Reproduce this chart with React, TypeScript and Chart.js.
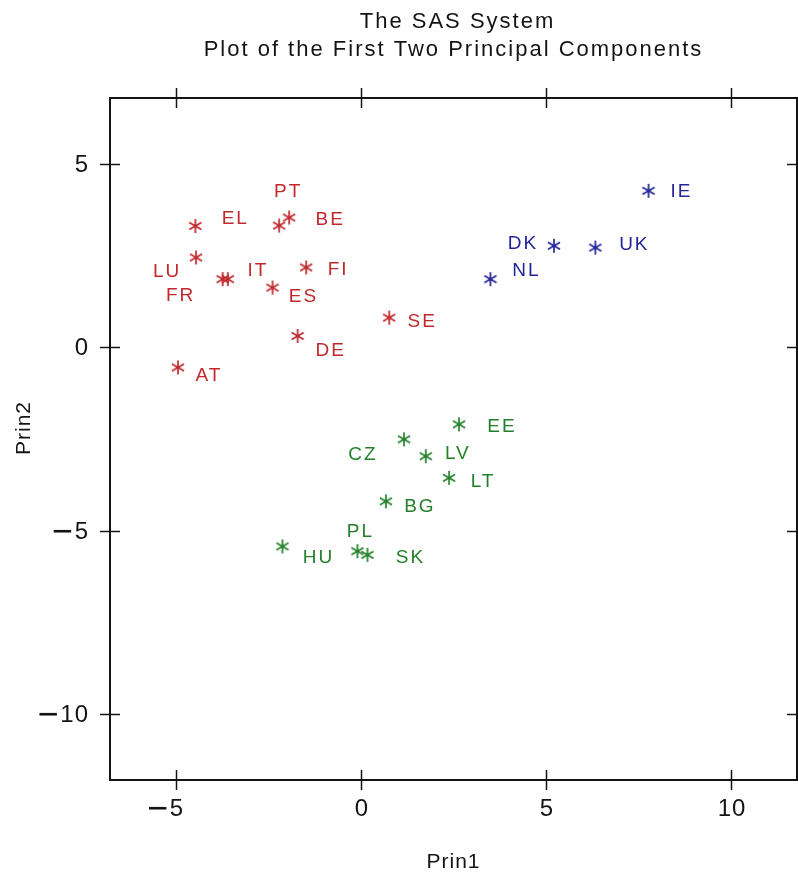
import React, { useEffect, useRef } from 'react';
import { Chart, registerables } from 'chart.js';

Chart.register(...registerables);

const titleLines = ['The SAS System', 'Plot of the First Two Principal Components'];
const xAxisTitle = 'Prin1';
const yAxisTitle = 'Prin2';
const xTicks = [-5, 0, 5, 10];
const yTicks = [-10, -5, 0, 5];
const xMin = -6.8;
const xMax = 11.8;
const yMin = -11.8;
const yMax = 6.8;

// Cluster 1 (red)
const westNames = ['PT', 'BE', 'EL', 'LU', 'FR', 'IT', 'ES', 'FI', 'SE', 'DE', 'AT'];
const westPrin1 = [-2.22, -1.95, -4.49, -4.47, -3.75, -3.61, -2.40, -1.49, 0.76, -1.72, -4.96];
const westPrin2 = [3.32, 3.54, 3.31, 2.45, 1.86, 1.86, 1.63, 2.18, 0.81, 0.31, -0.55];

// Cluster 2 (blue)
const northNames = ['IE', 'DK', 'UK', 'NL'];
const northPrin1 = [7.78, 5.22, 6.34, 3.50];
const northPrin2 = [4.27, 2.77, 2.72, 1.86];

// Cluster 3 (green)
const eastNames = ['EE', 'CZ', 'LV', 'LT', 'BG', 'HU', 'PL', 'SK'];
const eastPrin1 = [2.65, 1.16, 1.75, 2.38, 0.67, -2.13, -0.10, 0.17];
const eastPrin2 = [-2.10, -2.51, -2.97, -3.56, -4.20, -5.43, -5.56, -5.66];

// label placement (pixel offsets of the label centre from its marker)
const labelOffsets: Record<string, [number, number]> = {
  PT: [8, -34], BE: [40, 2], EL: [39, -7], LU: [-30, 14], FR: [-43, 17], IT: [29, -8],
  ES: [30, 9], FI: [31, 2], SE: [32, 4], DE: [32, 15], AT: [30, 8],
  IE: [32, 1], DK: [-32, -2], UK: [38, -3], NL: [35, -8],
  EE: [42, 2], CZ: [-42, 15], LV: [31, -2], LT: [33, 4], BG: [33, 5], HU: [35, 11], PL: [2, -19], SK: [42, 3],
};

const RED = '#c0282c';
const BLUE = '#24249a';
const GREEN = '#22802a';
const INK = '#141414';
const FONT = '"Liberation Sans", Arial, sans-serif';

function makeAsterisk(color: string) {
  const c = document.createElement('canvas');
  c.width = 18;
  c.height = 18;
  const ctx = c.getContext('2d')!;
  ctx.strokeStyle = color;
  ctx.lineWidth = 1.7;
  const r = 7;
  const cx = 9;
  const cy = 9;
  for (const a of [90, 30, 150]) {
    const rad = (a * Math.PI) / 180;
    ctx.beginPath();
    ctx.moveTo(cx - r * Math.cos(rad), cy - r * Math.sin(rad));
    ctx.lineTo(cx + r * Math.cos(rad), cy + r * Math.sin(rad));
    ctx.stroke();
  }
  return c;
}

// draws a tick number; anchor 'center' centres the digits, 'right' right-aligns them.
function drawNumber(ctx: any, value: number, x: number, y: number, anchor: 'center' | 'right') {
  const digits = String(Math.abs(value));
  ctx.save();
  ctx.font = `24px ${FONT}`;
  ctx.letterSpacing = '1px';
  ctx.textBaseline = 'middle';
  ctx.fillStyle = INK;
  const w = ctx.measureText(digits).width - 1;
  const left = anchor === 'center' ? x - w / 2 : x - w;
  ctx.textAlign = 'left';
  ctx.fillText(digits, left, y);
  if (value < 0) {
    ctx.font = `bold 24px ${FONT}`;
    ctx.letterSpacing = '0px';
    ctx.textAlign = 'right';
    ctx.translate(left - 2, y);
    ctx.scale(1.45, 1);
    ctx.fillText('\u2212', 0, 0);
  }
  ctx.restore();
}

export default function App() {
  const ref = useRef<HTMLCanvasElement>(null);

  useEffect(() => {
    if (!ref.current) return;
    const groups = [
      { names: westNames, xs: westPrin1, ys: westPrin2, color: RED },
      { names: northNames, xs: northPrin1, ys: northPrin2, color: BLUE },
      { names: eastNames, xs: eastPrin1, ys: eastPrin2, color: GREEN },
    ];

    const sasPlugin = {
      id: 'sasFrame',
      afterDraw(chart: any) {
        const { ctx, chartArea: a } = chart;
        const x = chart.scales.x;
        const y = chart.scales.y;
        ctx.save();
        ctx.strokeStyle = INK;
        ctx.lineWidth = 2;
        ctx.strokeRect(a.left, a.top, a.right - a.left, a.bottom - a.top);
        ctx.lineWidth = 1.5;
        const line = (x1: number, y1: number, x2: number, y2: number) => {
          ctx.beginPath();
          ctx.moveTo(x1, y1);
          ctx.lineTo(x2, y2);
          ctx.stroke();
        };
        x.ticks.forEach((t: any) => {
          const px = Math.round(x.getPixelForValue(t.value)) + 0.5;
          line(px, a.bottom - 10, px, a.bottom + 10);
          line(px, a.top - 10, px, a.top + 10);
          drawNumber(ctx, t.value, px, a.bottom + 29, 'center');
        });
        y.ticks.forEach((t: any) => {
          const py = Math.round(y.getPixelForValue(t.value)) + 0.5;
          line(a.left - 10, py, a.left + 10, py);
          line(a.right - 10, py, a.right + 10, py);
          drawNumber(ctx, t.value, a.left - 22, py + 1, 'right');
        });

        // point labels
        ctx.font = `19px ${FONT}`;
        (ctx as any).letterSpacing = '2px';
        ctx.textAlign = 'center';
        ctx.textBaseline = 'middle';
        chart.data.datasets.forEach((ds: any, di: number) => {
          const meta = chart.getDatasetMeta(di);
          ctx.fillStyle = ds.borderColor;
          meta.data.forEach((pt: any, i: number) => {
            const name = groups[di].names[i];
            const off = labelOffsets[name] || [30, 0];
            ctx.fillText(name, pt.x + off[0] + 1, pt.y + off[1]);
          });
        });

        // titles
        ctx.fillStyle = INK;
        const cx = (a.left + a.right) / 2;
        ctx.font = `22px ${FONT}`;
        (ctx as any).letterSpacing = '2px';
        ctx.fillText(titleLines[0], cx + 4, 22);
        ctx.fillText(titleLines[1], cx, 50);
        ctx.font = `21px ${FONT}`;
        (ctx as any).letterSpacing = '1px';
        ctx.fillText(xAxisTitle, cx, 862);
        ctx.save();
        ctx.translate(24, 428);
        ctx.rotate(-Math.PI / 2);
        ctx.fillText(yAxisTitle, 0, 0);
        ctx.restore();
        ctx.restore();
      },
    };

    const chart = new Chart(ref.current, {
      type: 'scatter',
      data: {
        datasets: groups.map((g) => ({
          label: g.names.join(','),
          data: g.xs.map((v, i) => ({ x: v, y: g.ys[i] })),
          borderColor: g.color,
          backgroundColor: g.color,
          pointStyle: makeAsterisk(g.color) as any,
          pointRadius: 8,
        })),
      },
      options: {
        animation: false,
        responsive: false,
        devicePixelRatio: 1,
        layout: { padding: { top: 98, right: 1, left: 0, bottom: 0 }, autoPadding: false },
        plugins: { legend: { display: false }, tooltip: { enabled: false }, title: { display: false } },
        scales: {
          x: {
            type: 'linear',
            min: xMin,
            max: xMax,
            grid: { display: false, drawTicks: false },
            border: { display: false },
            afterBuildTicks: (s: any) => {
              s.ticks = xTicks.map((v) => ({ value: v }));
            },
            afterFit: (s: any) => {
              s.height = 97;
            },
            ticks: { display: false },
          },
          y: {
            type: 'linear',
            min: yMin,
            max: yMax,
            grid: { display: false, drawTicks: false },
            border: { display: false },
            afterBuildTicks: (s: any) => {
              s.ticks = yTicks.map((v) => ({ value: v }));
            },
            afterFit: (s: any) => {
              s.width = 110;
            },
            ticks: { display: false },
          },
        },
      },
      plugins: [sasPlugin],
    });
    return () => chart.destroy();
  }, []);

  return (
    <div style={{ position: 'absolute', left: 0, top: 0, width: 798, height: 877, background: '#fff' }}>
      <canvas ref={ref} width={798} height={877} style={{ display: 'block' }} />
    </div>
  );
}
